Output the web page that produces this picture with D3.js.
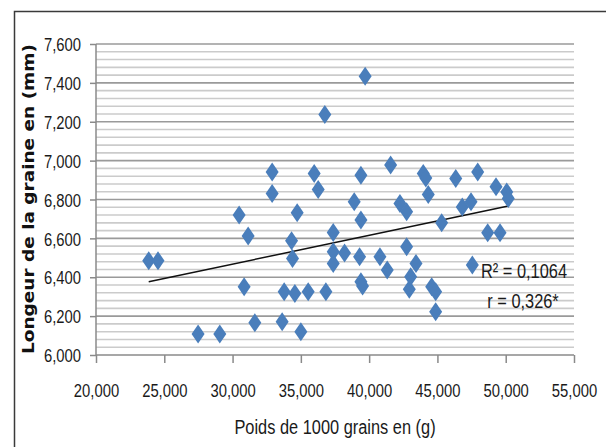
<!DOCTYPE html>
<html lang="fr">
<head>
<meta charset="utf-8">
<title>Poids vs longueur</title>
<script src="https://cdn.jsdelivr.net/npm/d3@7"></script>
<style>
  body { margin: 0; background: #fff; }
  svg { display: block; }
  .lbl { font-family: "Liberation Sans", Arial, sans-serif; fill: #1a1a1a; }
</style>
</head>
<body>
<script>
// poids de 1000 grains (g) / longueur de la graine (mm)
var poids = [23860, 24540, 27475, 29065, 30480, 31140, 30846, 31630, 32898, 32898,
  33630, 33778, 34320, 34390, 34560, 34730, 35000, 35536, 35976, 36270,
  36755, 36833, 37370, 37370, 37370, 38200, 38907, 39300, 39398, 39398,
  39398, 39520, 39707, 40790, 41325, 41573, 42256, 42745, 42745, 42940,
  43040, 43430, 43963, 44150, 44330, 44580, 44870, 44870, 45310, 46340,
  46820, 47460, 47555, 47950, 48680, 49290, 49585, 50075, 50190];
var longueur = [6485, 6485, 6108, 6108, 6720, 6612, 6351, 6166, 6942, 6831,
  6171, 6325, 6588, 6497, 6317, 6732, 6120, 6325, 6934, 6852,
  7237, 6325, 6630, 6531, 6471, 6525, 6788, 6505, 6925, 6694,
  6377, 6355, 7434, 6505, 6437, 6977, 6780, 6737, 6557, 6338,
  6402, 6471, 6934, 6910, 6826, 6351, 6325, 6223, 6680, 6908,
  6762, 6788, 6463, 6942, 6629, 6865, 6629, 6839, 6805];
// droite de tendance
var trendX = [23860, 50190];
var trendY = [6377, 6766];
var xTicks = [20000, 25000, 30000, 35000, 40000, 45000, 50000, 55000];
var yTicks = [6000, 6200, 6400, 6600, 6800, 7000, 7200, 7400, 7600];
var annotations = ["R² = 0,1064", "r = 0,326*"];

var w = 606, h = 447;
var mLeft = 96, mRight = 574, mTop = 44, mBottom = 355;
var squeeze = 0.78; // police étroite (Calibri) simulée

var svg = d3.select("body").append("svg")
  .attr("width", w)
  .attr("height", h);

// cadre
svg.append("rect")
  .attr("x", 14.5).attr("y", 11.5)
  .attr("width", 620).attr("height", 460)
  .attr("fill", "none")
  .attr("stroke", "#3a3a3a")
  .attr("stroke-width", 1.5);

var x = d3.scaleLinear().domain([20000, 55000]).range([mLeft, mRight]);
var y = d3.scaleLinear().domain([6000, 7600]).range([mBottom, mTop]);

// grille secondaire puis principale
var minor = d3.range(6000, 7601, 40);
svg.append("g").selectAll("line")
  .data(minor.filter(function(v) { return v % 200 !== 0; }))
  .enter().append("line")
  .attr("x1", mLeft).attr("x2", mRight)
  .attr("y1", function(d) { return y(d); })
  .attr("y2", function(d) { return y(d); })
  .attr("stroke", "#cbcbcb")
  .attr("stroke-width", 1.6);

svg.append("g").selectAll("line")
  .data(yTicks.slice(1))
  .enter().append("line")
  .attr("x1", mLeft).attr("x2", mRight)
  .attr("y1", function(d) { return y(d); })
  .attr("y2", function(d) { return y(d); })
  .attr("stroke", "#9a9a9a")
  .attr("stroke-width", 1.6);

// axes
var yAxis = d3.axisLeft(y).tickValues(yTicks).tickSize(6).tickFormat(d3.format(",.0f"));
var gy = svg.append("g").attr("transform", "translate(" + mLeft + ",0)").call(yAxis);
var xAxis = d3.axisBottom(x).tickValues(xTicks).tickSize(8).tickFormat(d3.format(",.0f"));
var gx = svg.append("g").attr("transform", "translate(0," + mBottom + ")").call(xAxis);

[gx, gy].forEach(function(g) {
  g.select(".domain").attr("stroke", "#8a8a8a").attr("stroke-width", 1.5);
  g.selectAll(".tick line").attr("stroke", "#8a8a8a").attr("stroke-width", 1.5);
  g.selectAll("text")
    .attr("class", "lbl")
    .style("font-size", "19px")
    .attr("fill", "#1a1a1a")
    .attr("transform", "scale(" + squeeze + ",1)");
});
gy.select(".domain").attr("d", "M0," + mBottom + "V" + mTop);
gx.select(".domain").attr("d", "M" + mLeft + ",0H" + mRight);
gy.selectAll("text").attr("x", -15 / squeeze).attr("dy", "0.35em");
gx.selectAll("text").attr("y", 35).attr("dy", "0.35em");

// droite de tendance
svg.append("line")
  .attr("x1", x(trendX[0])).attr("y1", y(trendY[0]))
  .attr("x2", x(trendX[1])).attr("y2", y(trendY[1]))
  .attr("stroke", "#111")
  .attr("stroke-width", 1.5);

// points en losange
var pts = poids.map(function(p, i) { return [p, longueur[i]]; });
svg.append("g").selectAll("path")
  .data(pts)
  .enter().append("path")
  .attr("transform", function(d) { return "translate(" + x(d[0]) + "," + y(d[1]) + ")"; })
  .attr("d", "M0,-9.5L6.5,0L0,9.5L-6.5,0Z")
  .attr("fill", "#4a7ebb");

// annotations
function narrowText(cx, cy, size, str) {
  svg.append("text").attr("class", "lbl")
    .attr("transform", "translate(" + cx + "," + cy + ") scale(" + squeeze + ",1)")
    .attr("text-anchor", "middle")
    .style("font-size", size + "px")
    .text(str);
}
narrowText(524, 278, 21, annotations[0]);
narrowText(523, 308, 21, annotations[1]);

// titres des axes
narrowText(335, 434, 21, "Poids de 1000 grains en (g)");

svg.append("text")
  .attr("transform", "translate(34,199) rotate(-90)")
  .attr("text-anchor", "middle")
  .attr("textLength", 310)
  .attr("lengthAdjust", "spacingAndGlyphs")
  .style("font-family", "DejaVu Sans, sans-serif")
  .style("font-weight", "bold")
  .style("font-size", "16px")
  .attr("fill", "#111")
  .text("Longeur de la graine en (mm)");
</script>
</body>
</html>
